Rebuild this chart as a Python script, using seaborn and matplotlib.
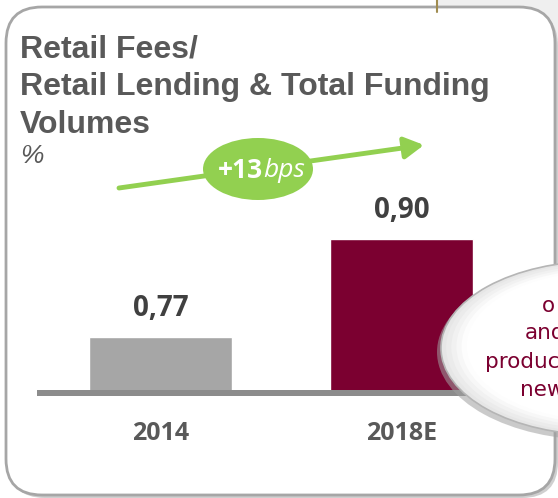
import numpy as np
import pandas as pd
import matplotlib
matplotlib.use("Agg")
import matplotlib.pyplot as plt
from matplotlib.patches import FancyBboxPatch, Ellipse, Rectangle, FancyArrowPatch
import seaborn as sns

# Chart values
categories = ["2014", "2018E"]
fee_ratio = [0.77, 0.90]
bar_colors = ["#A6A6A6", "#7B0030"]
title_lines = ["Retail Fees/", "Retail Lending & Total Funding", "Volumes"]
unit_label = "%"
change_main = "+13"
change_unit = "bps"
note_lines = ["o", "and", "products", "new"]

W, H = 558, 498
sns.set_theme(style="white")
plt.rcParams["font.family"] = ["Liberation Sans", "DejaVu Sans"]

fig = plt.figure(figsize=(W / 100, H / 100), dpi=100)
fig.patch.set_facecolor("white")

# Background layer in pixel coordinates (y grows downward)
bg = fig.add_axes([0, 0, 1, 1], zorder=0)
bg.set_xlim(0, W)
bg.set_ylim(H, 0)
bg.axis("off")

bg.add_patch(Rectangle((437, 0), W - 437, 40, color="#EFEFEF", lw=0))
bg.plot([437, 437], [0, 12], color="#A08C50", lw=1.5)

# Panel with soft shadow
bg.add_patch(FancyBboxPatch((9, 10), 549, 488, boxstyle="round,pad=0,rounding_size=36",
                            fc="#CFCFCF", ec="none"))
bg.add_patch(FancyBboxPatch((6, 7), 549, 488, boxstyle="round,pad=0,rounding_size=36",
                            fc="white", ec="#A6A6A6", lw=2))

title_color = "#595959"
for i, line in enumerate(title_lines):
    bg.text(20, 57 + 38 * i, line, fontsize=23, fontweight="bold", color=title_color,
            ha="left", va="baseline")
bg.text(20, 163, unit_label, fontsize=19, fontstyle="italic", color=title_color,
        ha="left", va="baseline")

# Growth arrow with badge
green = "#92D050"
bg.add_patch(FancyArrowPatch((119, 188), (424, 145), arrowstyle="-|>,head_length=0.9,head_width=0.5",
                             mutation_scale=13, color=green, lw=3.5, shrinkA=0, shrinkB=0))
bg.add_patch(Ellipse((258, 169), 110, 62, fc=green, ec="none"))
bg.text(263, 170, change_main, fontsize=19, fontweight="bold", color="white",
        family=["Open Sans"], ha="right", va="center")
bg.text(263, 170, change_unit, fontsize=19, fontstyle="italic", color="white",
        family=["Open Sans"], ha="left", va="center")

# Bar chart
px_left, px_right, px_top, px_bottom = 37, 519, 100, 396
ax = fig.add_axes([px_left / W, 1 - px_bottom / H, (px_right - px_left) / W,
                   (px_bottom - px_top) / H], zorder=1)
ax.patch.set_alpha(0)
df = pd.DataFrame({"year": categories, "ratio": fee_ratio})
sns.barplot(data=df, x="year", y="ratio", hue="year", palette=bar_colors, legend=False,
            width=0.593, saturation=1, ax=ax)
ax.set_xlim(-0.512, 1.488)
ax.set_ylim(0.692, 1.085)
ax.axhspan(0.692, 0.700, color="#8C8C8C", lw=0, zorder=5)
for s in ax.spines.values():
    s.set_visible(False)
ax.set_yticks([])
ax.set_xlabel("")
ax.set_ylabel("")
ax.tick_params(axis="x", length=0, pad=18)
for t in ax.get_xticklabels():
    t.set_fontfamily("Open Sans")
    t.set_fontweight("bold")
    t.set_fontsize(18)
    t.set_color("#595959")
for cont in ax.containers:
    ax.bar_label(cont, labels=[f"{v:.2f}".replace(".", ",") for v in cont.datavalues],
                 padding=10, fontsize=20, fontweight="bold", color="#404040",
                 family=["Open Sans"])

# Speech bubble on top
fg = fig.add_axes([0, 0, 1, 1], zorder=3)
fg.set_xlim(0, W)
fg.set_ylim(H, 0)
fg.axis("off")
fg.patch.set_alpha(0)
cx, cy, ew, eh = 600, 348, 318, 174
fg.add_patch(Ellipse((cx - 3, cy + 4), ew + 2, eh + 2, fc="#A0A0A0", ec="none", alpha=0.55))
n = 12
for k in range(n):
    f = 1 - k / n * 0.35
    shade = 0.90 + 0.10 * min(1.0, (k / (n - 1)) * 2.5)
    fg.add_patch(Ellipse((cx + 6 * k / n, cy - 5 * k / n), ew * f, eh * f,
                         fc=(shade, shade, shade), ec="none"))
fg.add_patch(Ellipse((cx, cy), ew, eh, fc="none", ec="#B5B5B5", lw=1.2))
note_pos = [(542, 306), (525, 333), (485, 362), (520, 390)]
for (x, y), line in zip(note_pos, note_lines):
    fg.text(x, y, line, fontsize=15.5, color="#7B0030", family=["DejaVu Sans"],
            ha="left", va="center")

fig.savefig("out.png", dpi=100)
